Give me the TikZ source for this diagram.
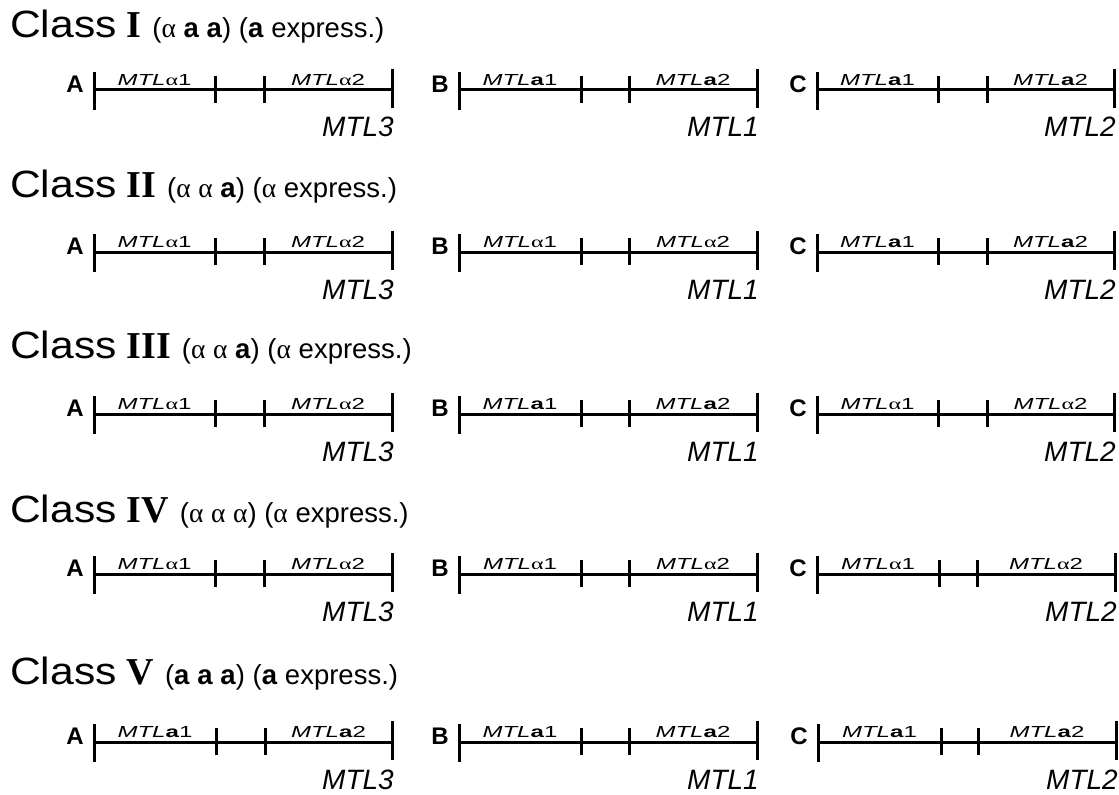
\documentclass[tikz,border=0pt]{standalone}
\usepackage{fontspec}
\setmainfont{Liberation Sans}
\newfontfamily\serifgr{Liberation Serif}
\newcommand\ga{{\serifgr α}}
\newcommand\ba{\textbf{a}}
\newcommand\cls[1]{\scalebox{1.12}[1]{\fontsize{38}{40}\selectfont Class}\hspace{10pt}{\serifgr\bfseries\fontsize{38}{40}\selectfont #1}\hspace{11pt}}
\tikzset{
  seg/.style={line width=3pt},
  lett/.style={font=\fontsize{24}{26}\selectfont\bfseries, inner sep=0pt},
  slab/.style={font=\fontsize{16}{18}\selectfont, inner sep=0pt},
  mlab/.style={font=\fontsize{28}{30}\selectfont\itshape, inner sep=0pt},
  ttl/.style={anchor=base west, inner sep=0pt, font=\fontsize{27.5}{30}\selectfont},
}
% #1 id, #2 line y, #3 letter, #4-#7 x positions, #8 allele, #9 MTL number
\newcommand\segpanel[9]{%
  \coordinate (#1l) at (#4,#2);
  \coordinate (#1t1) at (#5,#2);
  \coordinate (#1t2) at (#6,#2);
  \coordinate (#1r) at (#7,#2);
  \draw[seg] (#1l) -- (#1t1) -- (#1t2) -- (#1r);
  \draw[seg] ([yshift=18pt]#1l) -- ([yshift=-20pt]#1l);
  \draw[seg] ([yshift=14pt]#1t1) -- ([yshift=-13pt]#1t1);
  \draw[seg] ([yshift=14pt]#1t2) -- ([yshift=-13pt]#1t2);
  \draw[seg] ([yshift=21pt]#1r) -- ([yshift=-18pt]#1r);
  \node[lett, anchor=base east] (#1L) at ([xshift=-10pt,yshift=-2.5pt]#1l) {#3};
  \path (#1l) -- (#1t1) node[slab, pos=0.5, anchor=base, yshift=4.5pt] (#1s1) {\scalebox{1.5}[1]{\textit{MTL}#81}};
  \path (#1t2) -- (#1r) node[slab, pos=0.5, anchor=base, yshift=4.5pt] (#1s2) {\scalebox{1.5}[1]{\textit{MTL}#82}};
  \node[mlab, anchor=base east] (#1M) at ([xshift=2pt,yshift=-47pt]#1r) {MTL#9};
}
\begin{document}
\begin{tikzpicture}[x=1pt,y=-1pt]
\useasboundingbox (0,0) rectangle (1119,795);
% titles
\node[ttl] (t1) at (10,37) {\cls{I}(\ga\ \ba\ \ba) (\ba\ express.)};
\node[ttl] (t2) at (10,197) {\cls{II}(\ga\ \ga\ \ba) (\ga\ express.)};
\node[ttl] (t3) at (10,358) {\cls{III}(\ga\ \ga\ \ba) (\ga\ express.)};
\node[ttl] (t4) at (10,522) {\cls{IV}(\ga\ \ga\ \ga) (\ga\ express.)};
\node[ttl] (t5) at (10,684) {\cls{V}(\ba\ \ba\ \ba) (\ba\ express.)};
% row I
\segpanel{r1a}{89.5}{A}{94}{215}{264}{392}{\ga}{3}
\segpanel{r1b}{89.5}{B}{459}{581}{629}{757}{\ba}{1}
\segpanel{r1c}{89.5}{C}{817}{938}{987}{1114}{\ba}{2}
% row II
\segpanel{r2a}{252}{A}{94}{215}{264}{392}{\ga}{3}
\segpanel{r2b}{252}{B}{459}{581}{629}{757}{\ga}{1}
\segpanel{r2c}{252}{C}{817}{938}{987}{1114}{\ba}{2}
% row III
\segpanel{r3a}{414}{A}{94}{215}{264}{392}{\ga}{3}
\segpanel{r3b}{414}{B}{459}{581}{629}{757}{\ba}{1}
\segpanel{r3c}{414}{C}{817}{938}{987}{1114}{\ga}{2}
% row IV
\segpanel{r4a}{574}{A}{94}{215}{264}{392}{\ga}{3}
\segpanel{r4b}{574}{B}{459}{581}{629}{757}{\ga}{1}
\segpanel{r4c}{574}{C}{817}{939}{977}{1115}{\ga}{2}
% row V
\segpanel{r5a}{742}{A}{94}{216}{265}{392}{\ba}{3}
\segpanel{r5b}{742}{B}{459}{581}{629}{757}{\ba}{1}
\segpanel{r5c}{742}{C}{818}{941}{978}{1116}{\ba}{2}
\end{tikzpicture}
\end{document}
